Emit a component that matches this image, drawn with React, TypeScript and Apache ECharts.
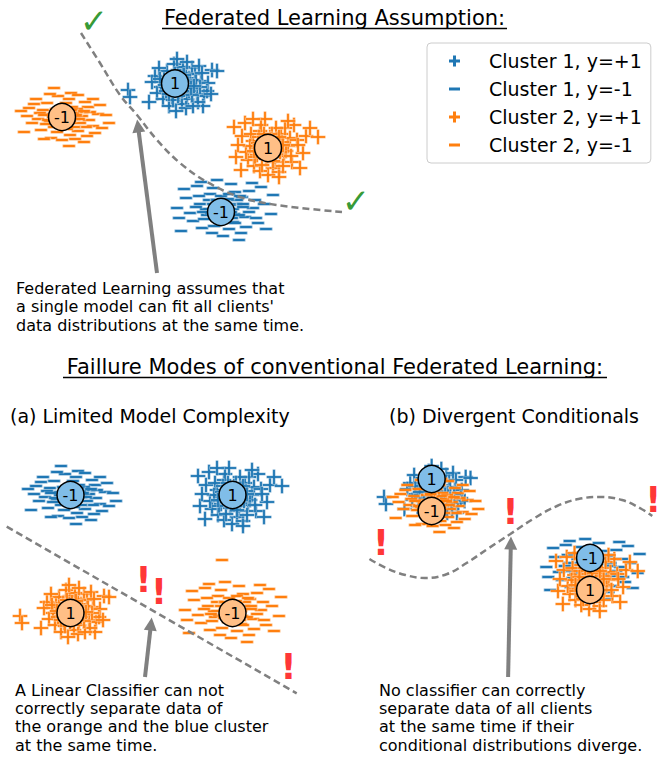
import React, { useEffect, useRef } from "react";
import * as echarts from "echarts";

const FONT = "'DejaVu Sans', 'Noto Sans', sans-serif";
const BLUE = "#1f77b4";
const ORANGE = "#ff7f0e";
const LIGHT_BLUE = "#80bde8";
const LIGHT_ORANGE = "#ffbf86";
const GREY = "#808080";

// Legend / series names
const SERIES_NAMES = ["Cluster 1, y=+1", "Cluster 1, y=-1", "Cluster 2, y=+1", "Cluster 2, y=-1"];

// Hand-read point offsets around each cluster centre (1 unit = 10 px)
const PLUS_A = [
  [-0.2, 0.2], [0.6, -0.3], [-0.9, -0.5], [1.1, 0.7], [0.2, -1.0], [-1.4, 0.8], [1.5, -0.4], [0.8, 1.2],
  [-0.6, -1.2], [1.9, -0.9], [-1.7, -0.2], [0.0, 1.5], [0.9, -1.4], [-1.1, 1.4], [2.3, 0.4], [0.4, -1.9],
  [-2.1, -0.8], [1.4, 1.7], [-0.3, -0.4], [0.5, 0.5], [-0.8, 0.2], [1.1, -0.6], [1.7, 1.1], [-1.5, -1.4],
  [2.6, -1.1], [2.1, 1.9], [-2.3, 0.9], [3.0, 0.2], [-2.9, -1.7], [0.8, -2.3], [-0.4, 2.1], [3.4, 1.5],
  [3.9, 1.4], [-5.0, -0.5], [-4.8, -1.2], [2.5, -2.1], [-0.9, -2.1], [0.2, 0.9], [-1.9, 1.7], [1.2, 0.2],
  [-0.5, -1.5], [2.0, -1.7], [-1.2, -0.6], [2.9, -0.6], [0.5, 1.8], [1.5, -2.1], [-2.6, 0.3], [0.9, 2.3],
  [3.3, -0.9], [-0.2, -2.6], [0.7, 0.1], [-0.7, 0.8], [1.4, -1.0], [-1.1, 0.4], [1.8, 0.5], [0.1, -0.7],
  [-1.8, 0.6], [2.4, 1.2], [-0.1, 2.6], [2.2, -0.2], [0.3, 0.4], [-0.4, -0.1], [0.9, -0.1], [-0.1, 0.7],
  [0.4, -0.6], [1.0, 0.4], [-0.6, 0.5], [0.2, -0.2], [1.3, -0.3], [-0.9, -0.9], [0.6, 1.0], [-0.3, 1.1],
  [1.6, -0.1], [0.0, -1.1], [-1.3, 0.0],
];
const PLUS_B = [
  [0.3, -0.2], [-0.5, 0.5], [1.0, 0.3], [-1.1, -0.7], [0.2, 1.1], [1.6, -0.8], [-1.5, 0.7], [0.7, -1.4],
  [-0.2, -1.1], [1.3, 1.4], [-0.8, 1.7], [2.0, 0.2], [-2.0, -1.2], [0.5, -2.0], [-1.4, -1.8], [2.4, -1.4],
  [-2.6, 1.2], [1.7, 2.0], [-0.4, 0.1], [0.5, 0.7], [0.8, -0.6], [-1.1, 0.0], [2.2, 1.0], [-2.2, -0.4],
  [1.1, -2.4], [-0.7, 2.3], [2.9, 0.8], [-3.2, -0.9], [3.5, -0.5], [-3.4, 2.1], [0.0, -2.7], [1.5, -1.8],
  [-0.8, -2.3], [2.6, 2.3], [-2.3, 2.5], [3.8, 1.2], [4.2, 2.0], [-2.7, -2.2], [3.2, -2.0], [-0.3, 2.9],
  [0.8, 2.0], [-1.7, 1.4], [1.4, 0.6], [-1.3, -0.9], [0.2, -0.5], [-0.2, 0.8], [1.8, -0.3], [-1.8, 0.2],
  [0.9, 0.9], [-0.9, 1.1], [0.6, -0.9], [2.3, -0.8], [-0.6, -1.7], [2.0, 2.7], [-3.0, 0.3], [3.0, 0.3],
  [1.1, -2.9], [-1.5, 2.9], [0.4, 1.4], [-0.5, -0.5], [0.1, 0.3], [-0.3, -0.3], [0.7, 0.1], [-0.7, -0.2],
  [0.3, 0.9], [1.2, -0.4], [-0.1, -0.8], [0.9, -0.3], [-1.0, 0.5], [0.5, -1.3], [1.5, 0.3], [-0.4, 1.4],
  [0.0, 0.0], [1.1, 1.1], [-1.4, -0.3], [5.0, 1.1],
];
const MINUS_A = [
  [-0.4, 0.2], [1.0, -0.2], [-1.4, -0.4], [1.8, 0.5], [0.3, -0.7], [-2.1, 0.7], [2.5, -0.3], [0.8, 1.0],
  [-1.0, -1.0], [2.9, -0.9], [-2.6, -0.2], [0.2, 1.4], [1.4, -1.4], [-1.7, 1.4], [3.4, 0.3], [0.6, -1.8],
  [-3.2, -0.6], [2.1, 1.5], [-0.7, -0.2], [0.9, 0.4], [-1.2, 0.3], [1.6, -0.6], [2.4, 1.0], [-2.3, -1.3],
  [3.8, -1.1], [2.9, 1.8], [-3.5, 0.9], [4.2, 0.2], [-4.0, -1.5], [1.1, -2.2], [-0.6, 2.1], [-1.4, 2.3],
  [0.7, 2.4], [-2.8, 1.8], [2.3, -1.9], [-1.3, -2.1], [0.2, 0.7], [-2.4, 0.4], [1.8, 0.1], [-0.7, -1.5],
  [3.1, -1.6], [-1.8, -0.7], [3.6, 1.2], [0.5, 1.8], [-3.7, 0.1], [1.4, 2.2], [-0.2, -2.3], [2.0, -2.5],
  [-2.0, -2.2], [0.0, -0.2], [1.3, 0.8], [-0.8, 0.8], [2.6, 0.5], [-3.0, 1.3], [-0.3, -0.9], [2.2, -1.0],
  [4.5, -0.6], [-4.3, 0.6], [0.5, -2.9], [-1.0, 2.9], [0.4, 0.1], [-0.2, 0.5], [0.6, -0.4], [-0.5, -0.6],
  [1.2, 0.2], [-1.1, 0.0], [0.1, -0.4], [0.8, 0.7], [-0.4, 0.9], [1.5, -0.2], [-1.6, -0.3], [0.3, -1.2],
  [2.0, 0.6], [-2.0, 0.2], [1.0, -1.0],
];
const MINUS_B = [
  [0.5, -0.2], [-0.6, 0.3], [1.3, 0.6], [-1.6, -0.5], [0.1, 0.9], [2.2, -0.7], [-2.3, 0.6], [1.0, -1.2],
  [-0.3, -1.0], [1.9, 1.3], [-1.3, 1.6], [3.0, 0.2], [-3.0, -1.1], [0.6, -1.9], [-2.1, -1.8], [3.5, -1.3],
  [-3.7, 1.2], [2.6, 1.9], [-0.5, 0.0], [0.7, 0.5], [1.1, -0.4], [-1.7, 0.1], [3.2, 1.0], [-3.3, -0.3],
  [1.8, -2.3], [-1.0, 2.2], [4.1, 0.6], [-4.4, -0.8], [4.8, -0.4], [-3.9, 2.1], [0.0, -2.6], [2.3, -1.7],
  [-1.1, -2.3], [3.8, 2.3], [-2.6, 2.4], [5.0, 1.5], [-0.6, 3.0], [0.8, 2.6], [-4.2, -2.1], [4.3, -1.9],
  [1.2, 1.8], [-2.4, 1.4], [2.0, 0.6], [-1.9, -0.9], [0.3, -0.5], [-0.2, 1.4], [2.6, -0.2], [-2.7, 0.3],
  [1.4, 1.0], [-1.4, 1.0], [0.9, -0.8], [3.3, -0.8], [-0.9, -1.6], [2.9, 2.7], [-4.6, 0.2], [1.6, -3.0],
  [-2.2, 2.8], [0.6, 1.6], [-0.7, -0.6], [0.2, 0.2], [0.4, 0.4], [-0.3, -0.4], [1.0, 0.1], [-1.0, 0.6],
  [0.2, -0.9], [1.6, -0.5], [-1.2, -0.3], [0.5, 1.1], [-0.6, 1.0], [2.0, 0.3], [-2.0, -0.2], [1.2, -1.3],
  [0.8, -0.2], [-0.1, 0.6], [1.7, 1.4],
];

// Cluster centres per panel
const TOP_C1_PLUS = [-0.2, 6.5];
const TOP_C1_MINUS = [4.3, -6.0];
const TOP_C2_PLUS = [8.8, 0.2];
const TOP_C2_MINUS = [-11.6, 3.3];
const A_C1_PLUS = [8.2, 6.8];
const A_C1_MINUS = [-7.9, 7.0];
const A_C2_PLUS = [-8.0, -4.6];
const A_C2_MINUS = [8.1, -4.7];
const A_C2_MINUS_EXTRA = [[7.2, 0.5]];
const B_C1_PLUS = [-7.5, 7.3];
const B_C2_MINUS = [-7.3, 6.2];
const B_C1_MINUS = [8.8, -0.4];
const B_C2_PLUS = [8.6, -1.7];

// Labelled circles [x, y, label]
const TOP_BLUE_CIRCLES = [[-0.5, 6.65, "1"], [4.1, -6.2, "-1"]];
const TOP_ORANGE_CIRCLES = [[-11.8, 3.3, "-1"], [8.8, 0.2, "1"]];
const A_BLUE_CIRCLES = [[-7.95, 7.0, "-1"], [8.25, 7.0, "1"]];
const A_ORANGE_CIRCLES = [[-7.95, -4.8, "1"], [8.25, -4.8, "-1"]];
const B_BLUE_CIRCLES = [[-7.6, 8.6, "1"], [8.7, 0.7, "-1"]];
const B_ORANGE_CIRCLES = [[-7.6, 5.4, "-1"], [8.7, -2.5, "1"]];

// Decision boundaries
const TOP_BOUNDARY = [
  [-9.9, 11.7], [-8, 8.7], [-6, 5.5], [-4.3, 3.5], [-2.3, 1], [0, -1.3], [2.7, -3.2], [6, -4.7], [9.7, -5.5], [16.2, -6.2],
];
const A_BOUNDARY = [[-14.33, 3.83], [14.67, -12.83]];
const B_BOUNDARY = [
  [-14, 0.6], [-12.3, -0.3], [-10.3, -1.0], [-8.3, -1.3], [-6, -0.9], [-4, 0.2], [-1.7, 1.7], [0.5, 3.1],
  [3, 4.7], [5.3, 5.9], [7.5, 6.6], [9.7, 6.8], [12, 6.5], [14, 5.6], [15.1, 4.9],
];

// Arrows [tail, head]
const TOP_ARROW = [[-2.3, -12.3], [-4.2, 2.4]];
const A_ARROW = [[-0.5, -11.2], [0.1, -5.9]];
const B_ARROW = [[0.27, -11.2], [0.55, 2.2]];

// Marks
const TOP_CHECKS = [[-8.6, 12.9], [17.6, -5.1]];
const A_WARNINGS = [[-0.65, -1.5], [0.9, -2.7], [13.85, -10.15]];
const B_WARNINGS = [[-12.8, 2.2], [0.5, 5.35], [15.2, 6.55]];

const PLUS_PATH = "path://M0,6.2H6.2V0H8.8V6.2H15V8.8H8.8V15H6.2V8.8H0Z";
const MINUS_PATH = "path://M0,0H13V2.7H0Z";
const LEGEND_PLUS = "path://M0,4H4V0H7V4H11V7H7V11H4V7H0Z";
const LEGEND_MINUS = "path://M0,0H11V3H0Z";

function shift(offsets: number[][], c: number[]) {
  return offsets.map(([dx, dy]) => [c[0] + dx, c[1] + dy]);
}

function pointSeries(name: string, grid: number, kind: "plus" | "minus", color: string, data: number[][]) {
  return {
    type: "scatter",
    name,
    xAxisIndex: grid,
    yAxisIndex: grid,
    symbol: kind === "plus" ? PLUS_PATH : MINUS_PATH,
    symbolSize: kind === "plus" ? 15 : [13, 2.7],
    data,
    itemStyle: { color, opacity: 1, borderColor: "rgba(255,255,255,0.45)", borderWidth: 0.7 },
    silent: true,
    z: 2,
  };
}

function circleSeries(grid: number, fill: string, data: any[]) {
  return {
    type: "scatter",
    name: "circle" + grid + fill,
    xAxisIndex: grid,
    yAxisIndex: grid,
    symbol: "circle",
    symbolSize: 27,
    data,
    itemStyle: { color: fill, borderColor: "#000", borderWidth: 1.5, opacity: 1 },
    label: {
      show: true,
      position: "inside",
      formatter: (p: any) => String(p.value[2]),
      color: "#000",
      fontSize: 16,
      fontFamily: FONT,
    },
    silent: true,
    z: 10,
  };
}

function markSeries(grid: number, data: number[][], text: string, color: string, size: number, weight: string, lh: number) {
  return {
    type: "scatter",
    name: "mark" + grid + text,
    xAxisIndex: grid,
    yAxisIndex: grid,
    symbolSize: 1,
    clip: false,
    data,
    itemStyle: { color: "rgba(0,0,0,0)" },
    label: {
      show: true,
      position: "inside",
      formatter: text,
      color,
      fontSize: size,
      lineHeight: lh,
      fontWeight: weight,
      fontFamily: FONT,
    },
    silent: true,
    z: 12,
  };
}

function boundarySeries(grid: number, data: number[][], smooth: number, arrow: number[][]) {
  return {
    type: "line",
    name: "boundary" + grid,
    xAxisIndex: grid,
    yAxisIndex: grid,
    data,
    smooth,
    symbol: "none",
    silent: true,
    lineStyle: { color: GREY, width: 2.5, type: [7, 4] },
    z: 4,
    markLine: {
      silent: true,
      symbol: ["none", "triangle"],
      symbolSize: 13,
      label: { show: false },
      lineStyle: { color: GREY, width: 4, type: "solid" },
      emphasis: { disabled: true },
      data: [[{ coord: arrow[0] }, { coord: arrow[1] }]],
    },
  };
}

export default function App() {
  const ref = useRef<HTMLDivElement>(null);
  useEffect(() => {
    if (!ref.current) return;
    const chart = echarts.init(ref.current, null, { renderer: "svg" });
    const hidden = { show: false };
    const option: any = {
      animation: false,
      backgroundColor: "#fff",
      grid: [
        { left: 0, top: 0, width: 360, height: 300 },
        { left: 0, top: 430, width: 300, height: 270 },
        { left: 350, top: 430, width: 320, height: 270 },
      ],
      xAxis: [
        { type: "value", gridIndex: 0, min: -18, max: 18, ...hidden },
        { type: "value", gridIndex: 1, min: -15, max: 15, ...hidden },
        { type: "value", gridIndex: 2, min: -16, max: 16, ...hidden },
      ],
      yAxis: [
        { type: "value", gridIndex: 0, min: -15, max: 15, ...hidden },
        { type: "value", gridIndex: 1, min: -13.5, max: 13.5, ...hidden },
        { type: "value", gridIndex: 2, min: -13.5, max: 13.5, ...hidden },
      ],
      legend: {
        orient: "vertical",
        left: 427,
        top: 43,
        padding: [8, 9, 8, 22],
        itemWidth: 11,
        itemHeight: 11,
        itemGap: 8,
        borderColor: "#cccccc",
        borderWidth: 1,
        borderRadius: 4,
        backgroundColor: "#ffffff",
        selectedMode: false,
        textStyle: { fontFamily: FONT, fontSize: 19, color: "#000", lineHeight: 20, padding: [0, 0, 0, 24] },
        data: [
          { name: SERIES_NAMES[0], icon: LEGEND_PLUS, itemStyle: { color: BLUE, borderWidth: 0 } },
          { name: SERIES_NAMES[1], icon: LEGEND_MINUS, itemStyle: { color: BLUE, borderWidth: 0 } },
          { name: SERIES_NAMES[2], icon: LEGEND_PLUS, itemStyle: { color: ORANGE, borderWidth: 0 } },
          { name: SERIES_NAMES[3], icon: LEGEND_MINUS, itemStyle: { color: ORANGE, borderWidth: 0 } },
        ],
      },
      graphic: {
        elements: [
          { type: "text", x: 334.5, y: 18, style: { text: "Federated Learning Assumption:", font: `21px ${FONT}`, fill: "#000", align: "center", verticalAlign: "middle" } },
          { type: "line", shape: { x1: 162, y1: 28.5, x2: 507, y2: 28.5 }, style: { stroke: "#000", lineWidth: 1.3 } },
          { type: "text", x: 16, y: 279, style: { text: "Federated Learning assumes that\na single model can fit all clients'\ndata distributions at the same time.", font: `16px ${FONT}`, fill: "#000", lineHeight: 18.5, verticalAlign: "top" } },
          { type: "text", x: 335, y: 367, style: { text: "Faillure Modes of conventional Federated Learning:", font: `21px ${FONT}`, fill: "#000", align: "center", verticalAlign: "middle" } },
          { type: "line", shape: { x1: 63, y1: 377.5, x2: 607, y2: 377.5 }, style: { stroke: "#000", lineWidth: 1.3 } },
          { type: "text", x: 10, y: 416, style: { text: "(a) Limited Model Complexity", font: `19px ${FONT}`, fill: "#000", verticalAlign: "middle" } },
          { type: "text", x: 389, y: 416, style: { text: "(b) Divergent Conditionals", font: `19px ${FONT}`, fill: "#000", verticalAlign: "middle" } },
          { type: "text", x: 15, y: 681, style: { text: "A Linear Classifier can not\ncorrectly separate data of\nthe orange and the blue cluster\nat the same time.", font: `16px ${FONT}`, fill: "#000", lineHeight: 18.3, verticalAlign: "top" } },
          { type: "text", x: 379, y: 681, style: { text: "No classifier can correctly\nseparate data of all clients\nat the same time if their\nconditional distributions diverge.", font: `16px ${FONT}`, fill: "#000", lineHeight: 18.3, verticalAlign: "top" } },
        ],
      },
      series: [
        // Top panel
        pointSeries(SERIES_NAMES[0], 0, "plus", BLUE, shift(PLUS_A, TOP_C1_PLUS)),
        pointSeries(SERIES_NAMES[1], 0, "minus", BLUE, shift(MINUS_B, TOP_C1_MINUS)),
        pointSeries(SERIES_NAMES[2], 0, "plus", ORANGE, shift(PLUS_B, TOP_C2_PLUS)),
        pointSeries(SERIES_NAMES[3], 0, "minus", ORANGE, shift(MINUS_A, TOP_C2_MINUS)),
        boundarySeries(0, TOP_BOUNDARY, 0.4, TOP_ARROW),
        circleSeries(0, LIGHT_BLUE, TOP_BLUE_CIRCLES),
        circleSeries(0, LIGHT_ORANGE, TOP_ORANGE_CIRCLES),
        markSeries(0, TOP_CHECKS, "\u2713", "#008000", 34, "bold", 34),
        // Panel (a)
        pointSeries(SERIES_NAMES[0], 1, "plus", BLUE, shift(PLUS_B, A_C1_PLUS)),
        pointSeries(SERIES_NAMES[1], 1, "minus", BLUE, shift(MINUS_A, A_C1_MINUS)),
        pointSeries(SERIES_NAMES[2], 1, "plus", ORANGE, shift(PLUS_A, A_C2_PLUS)),
        pointSeries(SERIES_NAMES[3], 1, "minus", ORANGE, shift(MINUS_B, A_C2_MINUS).concat(A_C2_MINUS_EXTRA)),
        boundarySeries(1, A_BOUNDARY, 0, A_ARROW),
        circleSeries(1, LIGHT_BLUE, A_BLUE_CIRCLES),
        circleSeries(1, LIGHT_ORANGE, A_ORANGE_CIRCLES),
        markSeries(1, A_WARNINGS, "!", "#ff0000", 35, "bold", 26),
        // Panel (b)
        pointSeries(SERIES_NAMES[0], 2, "plus", BLUE, shift(PLUS_A, B_C1_PLUS)),
        pointSeries(SERIES_NAMES[3], 2, "minus", ORANGE, shift(MINUS_A, B_C2_MINUS)),
        pointSeries(SERIES_NAMES[1], 2, "minus", BLUE, shift(MINUS_B, B_C1_MINUS)),
        pointSeries(SERIES_NAMES[2], 2, "plus", ORANGE, shift(PLUS_B, B_C2_PLUS)),
        boundarySeries(2, B_BOUNDARY, 0.4, B_ARROW),
        circleSeries(2, LIGHT_BLUE, B_BLUE_CIRCLES),
        circleSeries(2, LIGHT_ORANGE, B_ORANGE_CIRCLES),
        markSeries(2, B_WARNINGS, "!", "#ff0000", 35, "bold", 26),
      ],
    };
    chart.setOption(option);
    return () => chart.dispose();
  }, []);
  return (
    <div
      ref={ref}
      style={{ position: "fixed", left: 0, top: 0, width: 661, height: 758, background: "#fff" }}
    />
  );
}
